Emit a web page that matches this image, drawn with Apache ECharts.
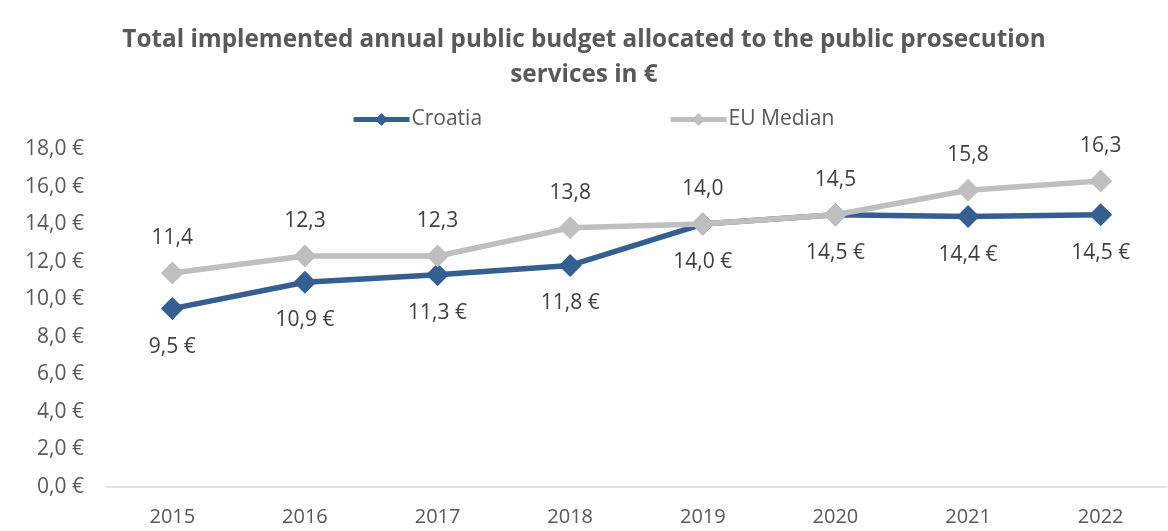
<!DOCTYPE html>
<html><head><meta charset="utf-8">
<script src="https://cdn.jsdelivr.net/npm/echarts@6/dist/echarts.min.js"></script>
<style>html,body{margin:0;padding:0;background:#fff}#c{width:1168px;height:531px}</style>
</head><body><div id="c"></div>
<script>
const years = ['2015','2016','2017','2018','2019','2020','2021','2022'];
const croatia = [9.5, 10.9, 11.3, 11.8, 14.0, 14.5, 14.4, 14.5];
const euMedian = [11.4, 12.3, 12.3, 13.8, 14.0, 14.5, 15.8, 16.3];
const fmt = v => v.toFixed(1).replace('.', ',');
const chart = echarts.init(document.getElementById('c'));
const font = 'Open Sans';
chart.setOption({
  animation: false,
  title: {
    text: 'Total implemented annual public budget allocated to the public prosecution\nservices in €',
    left: 'center', top: 18,
    textStyle: { fontFamily: font, fontSize: 24.3, fontWeight: 'bold', color: '#595959', lineHeight: 35 }
  },
  legend: {
    top: 104, left: 346, itemGap: 186, itemWidth: 56, itemHeight: 16,
    textStyle: { fontFamily: font, fontSize: 21, color: '#595959', padding: [0,0,0,-3] },
    lineStyle: { width: 5 },
    data: ['Croatia', 'EU Median']
  },
  grid: { left: 106, right: 1, top: 149, bottom: 44 },
  xAxis: {
    type: 'category', data: years, boundaryGap: true,
    axisLine: { lineStyle: { color: '#D9D9D9', width: 1.5 } },
    axisTick: { show: false },
    axisLabel: { fontFamily: font, fontSize: 20, color: '#595959', margin: 20 }
  },
  yAxis: {
    type: 'value', min: 0, max: 18, interval: 2,
    splitLine: { show: false },
    axisLine: { show: false }, axisTick: { show: false },
    axisLabel: { fontFamily: font, fontSize: 21, color: '#595959', margin: 22, formatter: v => fmt(v) + ' €' }
  },
  series: [
    {
      name: 'Croatia', type: 'line', data: croatia, z: 3,
      symbol: 'diamond', symbolSize: [23, 23],
      lineStyle: { color: '#355E91', width: 5.5 }, itemStyle: { color: '#355E91' },
      label: { show: true, position: 'bottom', distance: 16, fontFamily: font, fontSize: 21, color: '#404040', formatter: p => fmt(p.value) + ' €' }
    },
    {
      name: 'EU Median', type: 'line', data: euMedian, z: 4,
      symbol: 'diamond', symbolSize: [23, 23],
      lineStyle: { color: '#BFBFBF', width: 5.5 }, itemStyle: { color: '#BFBFBF' },
      label: { show: true, position: 'top', distance: 13, fontFamily: font, fontSize: 21, color: '#404040', formatter: p => fmt(p.value) }
    }
  ]
});
</script></body></html>
